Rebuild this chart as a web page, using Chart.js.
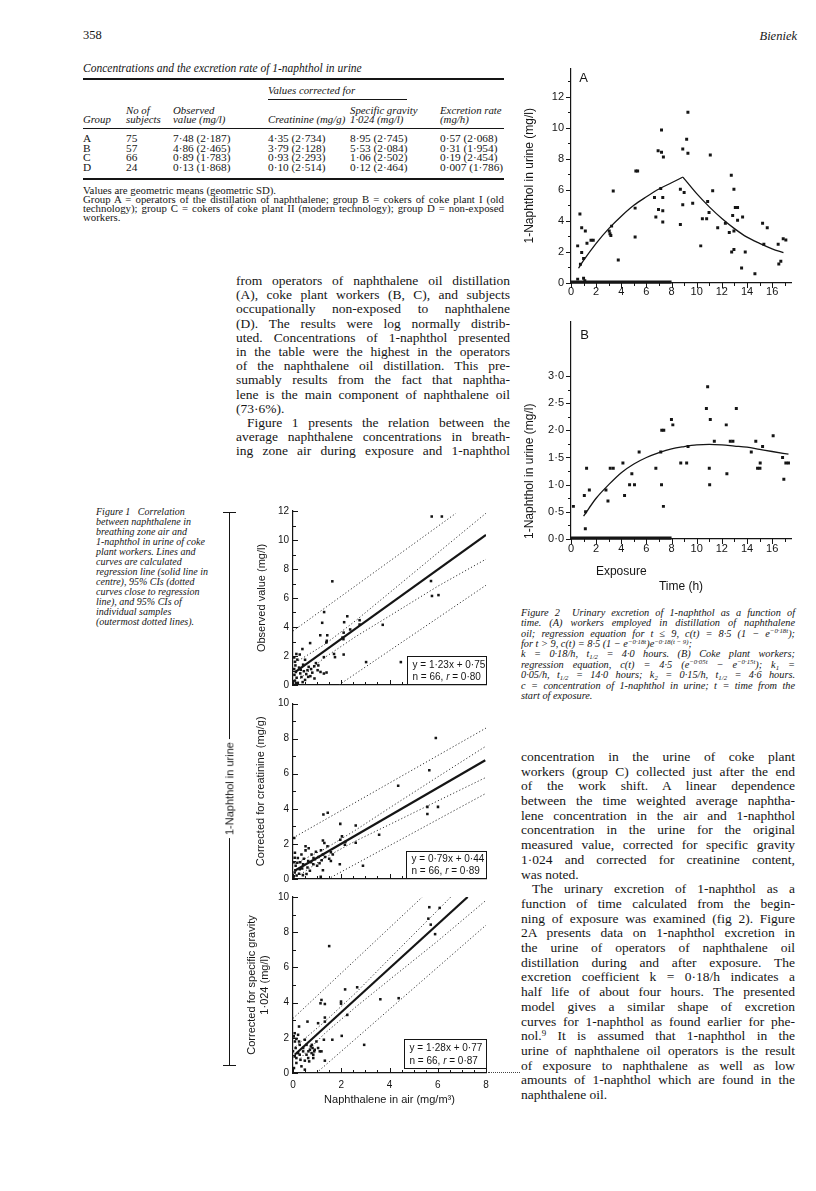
<!DOCTYPE html>
<html lang="en"><head><meta charset="utf-8">
<title>Bieniek 358</title>
<script src="https://cdn.jsdelivr.net/npm/chart.js@4.4.1/dist/chart.umd.min.js"></script>
<style>
html,body{margin:0;padding:0;background:#fff}
body{width:816px;height:1191px;position:relative;overflow:hidden;color:#151515;font-family:"Liberation Serif","DejaVu Serif",serif}
.a{position:absolute;white-space:nowrap}
.rule{position:absolute;background:#151515}
canvas{position:absolute}
sup{font-size:0.66em;vertical-align:baseline;position:relative;top:-0.5em}
sub{font-size:0.66em;vertical-align:baseline;position:relative;top:0.3em}
</style>
</head>
<body>
<canvas id="c2a" width="290" height="252" style="left:515px;top:55px"></canvas>
<canvas id="c2b" width="290" height="290" style="left:515px;top:308px"></canvas>
<canvas id="p1" width="266" height="197" style="left:236px;top:498px"></canvas>
<canvas id="p2" width="266" height="198" style="left:236px;top:691px"></canvas>
<canvas id="p3" width="266" height="227" style="left:236px;top:885px"></canvas>
<script>
// ---------------- DATA ----------------
// Figure 2A: operators of naphthalene oil distillation, [time h, 1-naphthol mg/l]
const figA_points = [[0.53,2.39],[0.71,4.44],[0.75,1.2],[0.85,3.55],[0.85,1.97],[1.0,1.58],[1.14,3.34],[1.27,2.56],[1.59,2.75],[1.77,2.75],
 [0.53,0.25],[1.0,0.3],[1.1,0.15],[3.04,3.34],[3.1,3.17],[3.17,3.06],[3.23,3.66],[3.36,5.92],[3.76,1.48],[5.1,4.82],[5.1,2.96],[5.16,7.21],[5.3,7.21],
 [6.64,5.51],[6.75,4.25],[6.96,4.73],[6.93,8.51],[7.14,6.08],[7.2,8.41],[7.35,8.11],[7.2,9.85],[7.3,5.51],[7.3,4.65],[7.3,3.93],
 [8.7,6.04],[8.7,3.76],[8.89,8.62],[8.89,5.03],[9.0,5.83],[9.2,9.25],[9.3,10.99],[9.3,8.35],[9.68,5.13],[10.32,2.39],[10.45,4.14],[10.79,4.14],
 [10.87,5.24],[10.98,4.54],[11.08,8.24],[11.27,5.94],[11.67,3.55],[12.28,3.85],[12.59,3.25],[12.75,6.93],[12.78,1.99],[12.86,4.35],[12.96,2.16],
 [12.96,3.34],[12.96,6.04],[13.07,4.86],[13.25,4.86],[13.25,4.04],[13.57,0.97],[13.65,4.25],[13.86,1.99],[14.63,0.59],[15.24,3.85],[15.34,2.49],
 [15.61,3.55],[16.48,2.49],[16.53,1.23],[16.69,1.4],[16.88,2.85],[17.09,2.77]];
const figA_rise = [[0.6,0.95],[1,1.45],[2,2.55],[3,3.5],[4,4.3],[5,5.0],[6,5.55],[7,6.05],[8,6.45],[8.9,6.82]];
const figA_fall = [[8.9,6.82],[10,5.75],[11,4.9],[12,4.15],[13,3.5],[14,2.95],[15,2.55],[16,2.2],[16.9,1.95]];
// Figure 2B: coke plant workers
const figB_points = [[0.19,0.6],[1.06,0.8],[1.16,0.5],[1.14,0.19],[1.24,1.3],[1.46,0.9],[2.78,0.9],[2.94,0.7],[3.12,1.3],[3.36,1.3],[4.13,1.4],
 [4.26,0.8],[4.66,1.0],[4.84,1.2],[5.05,1.0],[5.42,1.6],[6.75,1.3],[7.14,1.6],[7.2,1.0],[7.22,2.0],[7.38,2.0],[7.35,0.6],[7.99,2.2],[8.1,2.1],
 [8.73,1.4],[9.2,1.4],[9.31,1.7],[10.77,2.4],[10.87,2.8],[11.0,1.3],[11.03,1.0],[11.08,2.2],[11.4,1.8],[12.35,2.1],[12.4,1.2],[12.67,1.8],
 [12.88,1.8],[13.15,2.4],[14.34,1.6],[14.7,1.8],[14.84,1.3],[15.03,1.3],[15.05,1.4],[15.24,1.7],[16.08,1.9],[16.83,1.5],[16.93,1.1],[17.09,1.4],[17.3,1.4]];
const figB_curve = [[1,0.42],[2,0.75],[3,1.0],[4,1.22],[5,1.38],[6,1.5],[7,1.59],[8,1.66],[9,1.7],[10,1.73],[11,1.74],[12,1.73],[13,1.71],[14,1.69],[15,1.65],[16,1.61],[17.3,1.56]];
const fig2_exposure = [0, 8];
const fig2_xTicks = [0,2,4,6,8,10,12,14,16];
const fig2_xLabels = ['0','2','4','6','8','10','12','14','16'];
const figA_yTicks = [0,2,4,6,8,10,12];
const figA_yLabels = ['0','2','4','6','8','10','12'];
const figB_yTicks = [0,0.5,1,1.5,2,2.5,3];
const figB_yLabels = ['0·0','0·5','1·0','1·5','2·0','2·5','3·0'];

// Figure 1, panel 1: observed value (mg/l) vs naphthalene in air (mg/m3)
const p1_points = [[5.75,11.62],[6.17,11.62],[1.63,7.15],[5.72,7.17],[5.76,6.14],[6.03,6.2],[1.29,5.03],[2.25,4.74],[2.12,4.33],[1.21,4.29],
 [2.76,4.47],[2.76,4.17],[3.72,4.15],[2.37,3.83],[2.1,3.61],[2.05,3.27],[1.13,3.43],[1.42,3.43],[1.4,3.05],[1.38,2.93],[0.71,2.89],[2.09,3.16],
 [0.39,2.48],[0.14,2.14],[0.28,2.1],[0.5,1.74],[1.7,2.14],[1.74,1.92],[2.1,2.1],[1.28,1.92],[0.95,1.51],[0.88,1.29],[1.02,1.02],[1.14,0.9],
 [1.39,0.86],[0.6,1.02],[0.63,0.56],[0.72,0.61],[0.89,0.45],[1.28,0.79],[3.03,1.58],[4.47,1.58],[0.05,1.9],[0.08,1.6],[0.1,1.35],[0.05,1.1],
 [0.12,0.9],[0.06,0.7],[0.15,0.5],[0.08,0.3],[0.2,0.15],[0.25,1.2],[0.3,0.8],[0.35,0.55],[0.42,1.4],[0.45,0.95],[0.5,0.35],[0.18,1.75],
 [0.32,1.05],[0.55,0.75],[0.65,1.25],[0.8,0.85],[0.4,0.2],[0.12,0.12],[1.05,1.35],[0.75,1.1]];
const p1_fit = [[0.1,0.9],[8.0,10.35]];
const p1_ciUp = [[0.1,1.55],[1.3,2.78],[2.6,4.44],[4,6.36],[6,9.11],[8,11.85]];
const p1_ciLo = [[0.3,0.45],[1.3,1.88],[2.6,3.34],[4,4.76],[6,6.81],[8,8.68]];
const p1_piUp = [[0,3.72],[6.75,11.84]];
const p1_piLo = [[1.9,0],[8,6.88]];
const p1_box = ['y = 1·23x + 0·75', 'n = 66, ', 'r', ' = 0·80'];
// panel 2: corrected for creatinine (mg/g)
const p2_points = [[5.92,8.04],[5.65,6.2],[4.36,5.31],[5.57,4.11],[6.01,4.11],[5.57,3.7],[1.26,3.68],[1.44,3.78],[1.96,3.14],[2.6,3.05],
 [1.24,2.19],[1.3,2.05],[3.57,2.52],[2.6,2.06],[1.96,2.24],[2.03,2.43],[2.17,2.11],[0.52,1.87],[1.94,0.84],[2.9,0.75],[1.57,1.03],[1.24,0.5],
 [0.41,0.22],[1.15,0.13],[0.05,2.34],[1.16,1.64],[1.43,1.87],[1.57,1.53],[1.24,1.4],[1.06,1.25],[0.52,1.63],[0.77,1.4],[0.91,1.12],[0.63,1.03],
 [0.84,0.84],[1.0,0.75],[0.28,0.56],[0.11,0.75],[0.07,1.21],[0.18,0.93],[0.35,1.4],[0.07,0.37],[0.42,0.84],[0.7,0.47],[0.56,0.28],[1.19,1.07],
 [1.33,1.25],[1.65,1.4],[0.1,0.5],[0.2,1.2],[0.3,0.95],[0.05,0.95],[0.15,0.2],[0.45,1.15],[0.6,0.65],[0.75,0.95],[0.95,1.55],[1.1,0.9],
 [0.25,0.3],[0.08,1.5],[0.38,0.6],[0.85,1.2],[1.5,1.15],[0.65,1.75],[2.15,1.95],[0.03,0.15]];
const p2_fit = [[0.07,0.47],[7.97,6.77]];
const p2_ciUp = [[0.1,0.89],[1.3,1.7],[2.6,2.79],[4,4.05],[6,5.82],[8,7.57]];
const p2_ciLo = [[0.3,0.25],[1.3,1.2],[2.6,2.17],[4,3.1],[6,4.45],[8,5.79]];
const p2_piUp = [[0,2.34],[8,8.6]];
const p2_piLo = [[1.45,0],[8,4.88]];
const p2_box = ['y = 0·79x + 0·44', 'n = 66, ', 'r', ' = 0·89'];
// panel 3: corrected for specific gravity 1.024 (mg/l)
const p3_points = [[5.65,9.42],[6.08,9.38],[5.61,8.77],[5.71,8.43],[5.89,7.89],[1.5,7.21],[2.16,4.75],[2.66,4.87],[1.99,4.06],[1.99,3.94],
 [1.18,4.15],[1.14,3.96],[1.32,3.92],[3.62,4.19],[4.38,4.25],[2.25,3.3],[1.32,3.15],[1.32,2.92],[0.6,2.92],[1.04,2.83],[0.25,2.64],[1.63,1.89],
 [2.02,2.11],[2.95,1.6],[1.28,1.89],[1.04,1.42],[1.18,1.23],[1.32,0.7],[0.49,0.19],[0.04,0.28],[0.07,2.26],[0.03,2.08],[0.21,2.17],[0.14,1.94],
 [0.08,1.79],[0.28,1.6],[0.11,1.42],[0.42,1.23],[0.21,1.13],[0.07,0.94],[0.56,1.04],[0.7,1.32],[0.77,1.13],[0.84,1.04],[0.63,0.85],[0.84,0.85],
 [0.56,1.6],[0.49,1.89],[0.31,0.75],[0.14,0.57],[0.35,0.38],[0.74,1.51],[0.9,1.32],[0.42,1.42],[0.25,1.79],[0.64,1.23],[0.0,1.23],[0.81,1.42],
 [0.67,0.66],[0.97,1.79],[0.28,1.04],[0.78,1.6],[0.49,0.7],[0.88,1.23],[0.14,0.85],[1.11,1.23]];
const p3_fit = [[0.07,1.04],[7.24,10.0]];
const p3_ciUp = [[0.1,1.5],[1.3,2.9],[2.6,4.55],[4,6.5],[6,9.25],[6.54,10.0]];
const p3_ciLo = [[0.3,0.83],[1.3,2.23],[2.6,3.75],[4,5.3],[6,7.5],[8,9.81]];
const p3_piUp = [[0,3.1],[5.36,10.0]];
const p3_piLo = [[0.97,0],[8,8.4]];
const p3_box = ['y = 1·28x + 0·77', 'n = 66, ', 'r', ' = 0·87'];
const fig1_xTicks = [0,2,4,6,8];
const fig1_xLabels = ['0','2','4','6','8'];
const p1_yTicks = [0,2,4,6,8,10,12];
const p1_yLabels = ['0','2','4','6','8','10','12'];
const p23_yTicks = [0,2,4,6,8,10];
const p23_yLabels = ['0','2','4','6','8','10'];

// Table
const tableGroups = ['A','B','C','D'];
const tableN = ['75','57','66','24'];
const tableObserved = ['7·48 (2·187)','4·86 (2·465)','0·89 (1·783)','0·13 (1·868)'];
const tableCreatinine = ['4·35 (2·734)','3·79 (2·128)','0·93 (2·293)','0·10 (2·514)'];
const tableGravity = ['8·95 (2·745)','5·53 (2·084)','1·06 (2·502)','0·12 (2·464)'];
const tableExcretion = ['0·57 (2·068)','0·31 (1·954)','0·19 (2·454)','0·007 (1·786)'];

// ---------------- TEXT LAYOUT ----------------
const INK = '#151515';
const SANS = '"Liberation Sans", Arial, Helvetica, sans-serif';
function put(html, x, y, size, extra) {
  const d = document.createElement('div');
  d.className = 'a';
  d.style.cssText = `left:${x}px;top:${(y - size * 0.6).toFixed(1)}px;font-size:${size}px;line-height:${(size * 1.2).toFixed(1)}px;` + (extra || '');
  d.innerHTML = html;
  document.body.appendChild(d);
  return d;
}
function block(items, x, y0, step, w, size, extra) {
  items.forEach((it, i) => {
    const txt = Array.isArray(it) ? it[0] : it;
    const just = Array.isArray(it) ? it[1] : true;
    const ind = Array.isArray(it) && it[2] ? it[2] : 0;
    const d = put(txt, x + ind, y0 + i * step, size, (extra || '') + `width:${w - ind}px;` + (just ? 'text-align:justify;text-align-last:justify;' : ''));
    const s = document.createElement('span'); s.innerHTML = d.innerHTML; s.style.whiteSpace = 'nowrap';
    d.innerHTML = ''; d.appendChild(s);
    const nat = s.getBoundingClientRect().width;
    d.innerHTML = s.innerHTML;
    if (nat > w - ind) { d.style.letterSpacing = ((w - ind - nat) / d.textContent.length - 0.05).toFixed(2) + 'px'; }
  });
}
function rule(x, y, w, h) { const r = document.createElement('div'); r.className = 'rule'; r.style.cssText = `left:${x}px;top:${y}px;width:${w}px;height:${h}px`; document.body.appendChild(r); }

put('358', 83, 35, 12.5);
put('Bieniek', 750, 36, 12.5, 'font-style:italic;width:47px;text-align:right;');
put('Concentrations and the excretion rate of 1-naphthol in urine', 83, 69, 11.5, 'font-style:italic;');
rule(83, 78, 421, 2);
put('Values corrected for', 268, 90, 10.8, 'font-style:italic;');
rule(268, 99, 139, 0.8);
const IT = 'font-style:italic;';
put('No of', 126, 110, 10.8, IT); put('Observed', 173, 110, 10.8, IT); put('Specific gravity', 350, 110, 10.8, IT); put('Excretion rate', 440, 110, 10.8, IT);
put('Group', 83, 119.5, 10.8, IT); put('subjects', 126, 119.5, 10.8, IT); put('value (mg/l)', 173, 119.5, 10.8, IT);
put('Creatinine (mg/g)', 268, 119.5, 10.8, IT); put('1·024 (mg/l)', 350, 119.5, 10.8, IT); put('(mg/h)', 440, 119.5, 10.8, IT);
rule(83, 128, 421, 0.8);
const colX = [83, 126, 173, 268, 350, 440];
tableGroups.forEach((g, i) => {
  const y = 139 + i * 9.5;
  [g, tableN[i], tableObserved[i], tableCreatinine[i], tableGravity[i], tableExcretion[i]].forEach((v, j) => put(v, colX[j], y, 11.3));
});
rule(83, 178, 421, 2);
block([
  ['Values are geometric means (geometric SD).', false],
  'Group A = operators of the distillation of naphthalene; group B = cokers of coke plant I (old',
  'technology); group C = cokers of coke plant II (modern technology); group D = non-exposed',
  ['workers.', false]
], 83, 190, 9, 421, 10.8);

block([
  'from operators of naphthalene oil distillation',
  '(A), coke plant workers (B, C), and subjects',
  'occupationally non-exposed to naphthalene',
  '(D). The results were log normally distrib-',
  'uted. Concentrations of 1-naphthol presented',
  'in the table were the highest in the operators',
  'of the naphthalene oil distillation. This pre-',
  'sumably results from the fact that naphtha-',
  'lene is the main component of naphthalene oil',
  ['(73·6%).', false],
  ['Figure 1 presents the relation between the', true, 11],
  'average naphthalene concentrations in breath-',
  'ing zone air during exposure and 1-naphthol'
], 236, 281, 14.2, 274, 13.5);

block([
  'concentration in the urine of coke plant',
  'workers (group C) collected just after the end',
  'of the work shift. A linear dependence',
  'between the time weighted average naphtha-',
  'lene concentration in the air and 1-naphthol',
  'concentration in the urine for the original',
  'measured value, corrected for specific gravity',
  '1·024 and corrected for creatinine content,',
  ['was noted.', false],
  ['The urinary excretion of 1-naphthol as a', true, 11],
  'function of time calculated from the begin-',
  'ning of exposure was examined (fig 2). Figure',
  '2A presents data on 1-naphthol excretion in',
  'the urine of operators of naphthalene oil',
  'distillation during and after exposure. The',
  'excretion coefficient k = 0·18/h indicates a',
  'half life of about four hours. The presented',
  'model gives a similar shape of excretion',
  'curves for 1-naphthol as found earlier for phe-',
  'nol.<sup>9</sup> It is assumed that 1-naphthol in the',
  'urine of naphthalene oil operators is the result',
  'of exposure to naphthalene as well as low',
  'amounts of 1-naphthol which are found in the',
  ['naphthalene oil.', false]
], 521, 757, 14.7, 274, 13.5);

block([
  'Figure 2&nbsp; Urinary excretion of 1-naphthol as a function of',
  'time. (A) workers employed in distillation of naphthalene',
  'oil; regression equation for t ≤ 9, c(t) = 8·5 (1 − e<sup>−0·18t</sup>);',
  ['for t &gt; 9, c(t) = 8·5 (1 − e<sup>−0·18t</sup>)e<sup>−0·18(t − 9)</sup>;', false],
  'k = 0·18/h, t<sub>1/2</sub> = 4·0 hours. (B) Coke plant workers;',
  'regression equation, c(t) = 4·5 (e<sup>−0·05t</sup> − e<sup>−0·15t</sup>); k<sub>1</sub> =',
  '0·05/h, t<sub>1/2</sub> = 14·0 hours; k<sub>2</sub> = 0·15/h, t<sub>1/2</sub> = 4·6 hours.',
  'c = concentration of 1-naphthol in urine; t = time from the',
  ['start of exposure.', false]
], 521, 613, 10.4, 274, 10.3, IT);

block([
  'Figure 1&nbsp;&nbsp; Correlation', 'between naphthalene in', 'breathing zone air and', '1-naphthol in urine of coke',
  'plant workers. Lines and', 'curves are calculated', 'regression line (solid line in', 'centre), 95% CIs (dotted',
  'curves close to regression', 'line), and 95% CIs of', 'individual samples', '(outermost dotted lines).'
].map(s => [s, false]), 96, 512, 10, 135, 10, IT);

// bracket for figure 1
rule(229, 512, 1.2, 554);
rule(223, 512, 13, 1.2);
rule(223, 1065, 13, 1.2);
const br = put('1-Naphthol in urine', 229.6, 789, 11, `font-family:${SANS};background:#fff;padding:0 3px;transform:translate(-50%,0) rotate(-90deg);transform-origin:50% 50%;`);
br.style.top = (789 - 6.6) + 'px';
const dots = document.createElement('div');
dots.style.cssText = 'position:absolute;left:488px;top:1072px;width:32px;border-top:1.2px dotted #444';
document.body.appendChild(dots);

// ---------------- CHARTS ----------------
Chart.defaults.font.family = SANS;
Chart.defaults.color = INK;

const decor = {
  id: 'decor',
  afterDraw(chart, args, o) {
    const ctx = chart.ctx, a = chart.chartArea, xs = chart.scales.x, ys = chart.scales.y;
    ctx.save();
    ctx.strokeStyle = INK; ctx.fillStyle = INK; ctx.lineWidth = 1;
    if (o.bar) {
      const x0 = xs.getPixelForValue(o.bar[0]), x1 = xs.getPixelForValue(o.bar[1]);
      ctx.fillRect(x0, a.bottom - 2.5, x1 - x0, 3.2);
    }
    [[xs, o.xt], [ys, o.yt]].forEach(([sc, t]) => {
      if (!t) return;
      const n = Math.round((t.to - t.from) / t.step);
      ctx.beginPath();
      for (let i = 0; i <= n; i++) {
        const v = t.from + i * t.step;
        const maj = Math.abs(v / t.major - Math.round(v / t.major)) < 1e-6;
        const len = (maj ? t.maj : t.min) * (t.out ? 1 : -1);
        const p = Math.round(sc.getPixelForValue(v)) + 0.5;
        if (sc.axis === 'x') { ctx.moveTo(p, a.bottom); ctx.lineTo(p, a.bottom + len); }
        else { ctx.moveTo(a.left, p); ctx.lineTo(a.left - len, p); }
      }
      ctx.stroke();
    });
    if (o.box) {
      const b = o.box, x = Math.round(a.right - b.w) + 0.5, y = Math.round(a.bottom - b.gap - b.h) + 0.5;
      ctx.fillStyle = '#fff'; ctx.fillRect(x, y, b.w, b.h);
      ctx.strokeStyle = INK; ctx.lineWidth = 1; ctx.strokeRect(x, y, b.w, b.h);
      ctx.fillStyle = INK; ctx.textBaseline = 'middle'; ctx.textAlign = 'left';
      ctx.font = `10px ${SANS}`;
      ctx.fillText(b.t[0], x + 5, y + b.h * 0.3);
      let cx = x + 5; const cy = y + b.h * 0.74;
      ctx.fillText(b.t[1], cx, cy); cx += ctx.measureText(b.t[1]).width;
      ctx.font = `italic 10px ${SANS}`; ctx.fillText(b.t[2], cx, cy); cx += ctx.measureText(b.t[2]).width;
      ctx.font = `10px ${SANS}`; ctx.fillText(b.t[3], cx, cy);
    }
    if (o.letter) {
      ctx.font = `13px ${SANS}`; ctx.textAlign = 'center'; ctx.textBaseline = 'middle';
      ctx.fillText(o.letter[0], a.left + o.letter[1], a.top + o.letter[2]);
    }
    if (o.under) {
      ctx.font = `12px ${SANS}`; ctx.textAlign = 'center'; ctx.textBaseline = 'middle';
      ctx.fillText(o.under[0], xs.getPixelForValue(o.under[1]), a.bottom + o.under[2]);
    }
    ctx.restore();
  }
};

function axis(o) {
  return {
    type: 'linear', position: o.pos, min: o.min, max: o.max,
    grid: { display: false, drawTicks: false },
    border: { display: true, color: INK, width: 1.2 },
    afterBuildTicks(s) { s.ticks = o.ticks.map(v => ({ value: v })); },
    afterFit(s) { if (o.pos === 'left') s.width = o.size; else s.height = o.size; },
    ticks: { display: o.labels !== null, padding: o.pad, color: INK, autoSkip: false, maxRotation: 0,
      font: { family: SANS, size: o.fs }, callback: (v, i) => (o.labels ? o.labels[i] : '') },
    title: o.title ? { display: true, text: o.title, color: INK, align: o.talign || 'center',
      font: { family: SANS, size: o.tfs }, padding: { top: o.tpad, bottom: o.tpad } } : { display: false }
  };
}
const xy = arr => arr.map(p => ({ x: p[0], y: p[1] }));
function pointsDs(arr, r) { return { data: xy(arr), pointStyle: 'rect', pointRadius: r, pointHoverRadius: r, pointBackgroundColor: INK, pointBorderWidth: 0, showLine: false }; }
function lineDs(arr, w, dash, mono) {
  return { data: xy(arr), showLine: true, pointRadius: 0, borderColor: dash ? '#333' : INK, borderWidth: w,
    borderDash: dash || [], fill: false, cubicInterpolationMode: mono ? 'monotone' : 'default', tension: 0 };
}
function make(id, datasets, scales, pad, decorOpts) {
  return new Chart(document.getElementById(id), {
    type: 'scatter',
    data: { datasets },
    options: { responsive: false, animation: false, devicePixelRatio: 1, events: [],
      layout: { padding: { top: pad[0], right: pad[1], bottom: 0, left: 0 } },
      plugins: { legend: { display: false }, tooltip: { enabled: false }, decor: decorOpts },
      scales },
    plugins: [decor]
  });
}

// Figure 2A
make('c2a', [pointsDs(figA_points, 2.1), lineDs(figA_rise, 1.3, null, true), lineDs(figA_fall, 1.3, null, true)], {
  x: axis({ pos: 'bottom', min: 0, max: 17.5, ticks: fig2_xTicks, labels: fig2_xLabels, size: 24, pad: 2, fs: 11 }),
  y: axis({ pos: 'left', min: 0, max: 13.8, ticks: figA_yTicks, labels: figA_yLabels, size: 56, pad: 7, fs: 11,
    title: '1-Naphthol in urine (mg/l)', tfs: 12, tpad: 7.8 })
}, [9, 14], { bar: fig2_exposure, letter: ['A', 12.5, 10],
  xt: { from: 0, to: 17, step: 1, major: 2, maj: 5, min: 3, out: true },
  yt: { from: 0, to: 13, step: 1, major: 2, maj: 5, min: 3, out: true } });

// Figure 2B
make('c2b', [pointsDs(figB_points, 2.1), lineDs(figB_curve, 1.3, null, true)], {
  x: axis({ pos: 'bottom', min: 0, max: 17.5, ticks: fig2_xTicks, labels: fig2_xLabels, size: 59, pad: 3, fs: 11,
    title: 'Time (h)', tfs: 12, tpad: 3.8 }),
  y: axis({ pos: 'left', min: 0, max: 4.0, ticks: figB_yTicks, labels: figB_yLabels, size: 56, pad: 7, fs: 11,
    title: '1-Naphthol in urine (mg/l)', tfs: 12, tpad: 7.8, talign: 'start' })
}, [10, 14], { bar: fig2_exposure, letter: ['B', 13.5, 14], under: ['Exposure', 4, 33],
  xt: { from: 0, to: 17, step: 1, major: 2, maj: 5, min: 3, out: true },
  yt: { from: 0, to: 3, step: 0.25, major: 0.5, maj: 5, min: 3, out: true } });

// Figure 1 panels
function panel(id, pts, fit, ciUp, ciLo, piUp, piLo, yMax, yTicks, yLabels, yTitle, tpad, showX, xSize, pad, box) {
  const xa = showX
    ? axis({ pos: 'bottom', min: 0, max: 8, ticks: fig1_xTicks, labels: fig1_xLabels, size: xSize, pad: 6, fs: 10,
        title: 'Naphthalene in air (mg/m³)', tfs: 11, tpad: 5.4 })
    : axis({ pos: 'bottom', min: 0, max: 8, ticks: fig1_xTicks, labels: null, size: xSize, pad: 0, fs: 10 });
  make(id, [pointsDs(pts, 1.8), lineDs(fit, 2.2), lineDs(ciUp, 1, [1.2, 2.2]), lineDs(ciLo, 1, [1.2, 2.2]),
    lineDs(piUp, 1, [1.2, 2.2]), lineDs(piLo, 1, [1.2, 2.2])], {
    x: xa,
    y: axis({ pos: 'left', min: 0, max: yMax, ticks: yTicks, labels: yLabels, size: 57, pad: 4, fs: 10,
      title: yTitle, tfs: 11, tpad: tpad })
  }, pad, { box,
    xt: { from: 0, to: 8, step: 0.5, major: 2, maj: 5, min: 3, out: false },
    yt: { from: 0, to: yMax, step: 1, major: 2, maj: 5, min: 3, out: false } });
}
panel('p1', p1_points, p1_fit, p1_ciUp, p1_ciLo, p1_piUp, p1_piLo, 12, p1_yTicks, p1_yLabels,
  'Observed value (mg/l)', 19.4, false, 7, [13, 16], { w: 79, h: 28, gap: 1, t: p1_box });
panel('p2', p2_points, p2_fit, p2_ciUp, p2_ciLo, p2_piUp, p2_piLo, 10, p23_yTicks, p23_yLabels,
  'Corrected for creatinine (mg/g)', 18.4, false, 7.5, [12.5, 16], { w: 80, h: 27, gap: 1.5, t: p2_box });
panel('p3', p3_points, p3_fit, p3_ciUp, p3_ciLo, p3_piUp, p3_piLo, 10, p23_yTicks, p23_yLabels,
  ['Corrected for specific gravity', '1·024 (mg/l)'], 9.4, true, 39, [12, 16], { w: 82, h: 29, gap: 5, t: p3_box });
</script>
</body></html>
